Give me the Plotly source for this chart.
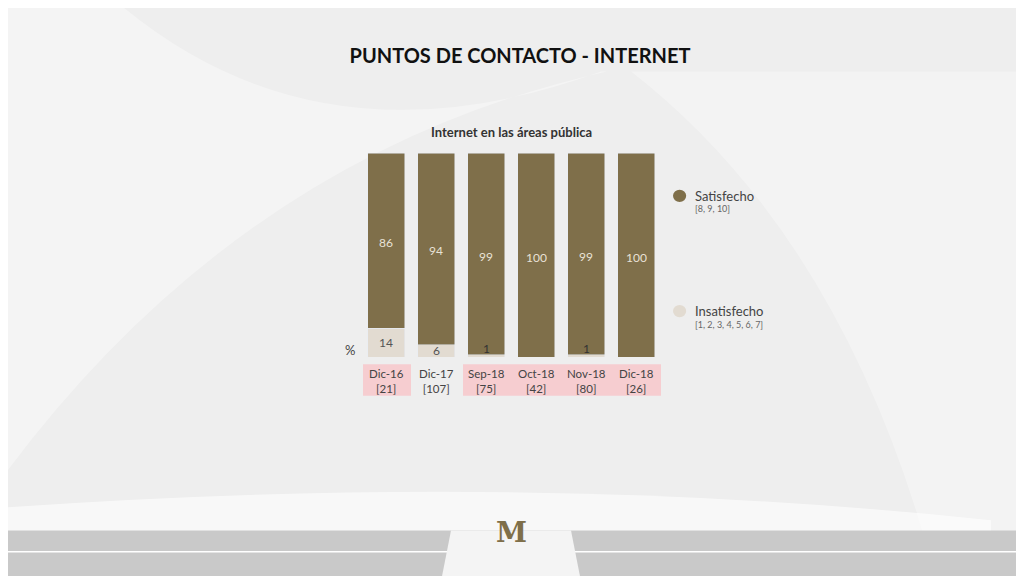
import plotly.graph_objects as go

categories = ["Dic-16", "Dic-17", "Sep-18", "Oct-18", "Nov-18", "Dic-18"]
bases = ["[21]", "[107]", "[75]", "[42]", "[80]", "[26]"]
insatisfecho = [14, 6, 1, 0, 1, 0]
satisfecho = [86, 94, 99, 100, 99, 100]
highlight = [True, False, True, True, True, True]

C_SAT = "#7f6f4a"
C_INS = "#e2dbd1"
FONT = "Lato, Century Gothic, sans-serif"

fig = go.Figure()
fig.add_trace(go.Bar(x=categories, y=insatisfecho, marker_color=C_INS, width=0.74,
                     showlegend=False, hoverinfo="skip"))
fig.add_trace(go.Bar(x=categories, y=satisfecho, marker_color=C_SAT, width=0.74,
                     showlegend=False, hoverinfo="skip"))

anns = []
for i, c in enumerate(categories):
    s, n = satisfecho[i], insatisfecho[i]
    anns.append(dict(x=c, y=n + s * 0.49, text=str(s), showarrow=False,
                     font=dict(color="#e8e2d6", size=12)))
    if n >= 5:
        anns.append(dict(x=c, y=n / 2, text=str(n), showarrow=False,
                         font=dict(color="#555", size=12)))
    elif n > 0:
        anns.append(dict(x=c, y=0, yshift=-1, text=str(n), showarrow=False, yanchor="bottom",
                         font=dict(color="#333", size=12)))
    anns.append(dict(x=c, y=-0.04, yref="paper", text=f"{c}<br>{bases[i]}", showarrow=False,
                     yanchor="top", font=dict(color="#444", size=11.5)))

shapes = []
# pink label boxes
runs = []
i = 0
while i < len(categories):
    if highlight[i]:
        j = i
        while j + 1 < len(categories) and highlight[j + 1]:
            j += 1
        runs.append((i, j))
        i = j + 1
    else:
        i += 1
for a, b in runs:
    shapes.append(dict(type="rect", xref="x", yref="paper", x0=a - 0.46, x1=b + 0.5,
                       y0=-0.19, y1=-0.035, fillcolor="#f6cdd0", line_width=0, layer="below"))

# background swooshes
shapes += [
    dict(type="path", xref="paper", yref="paper", layer="below", line_width=0,
         fillcolor="rgba(255,255,255,0.35)",
         path="M -1.3 2.6 Q -0.5 0.7 0.8 1.4 L 0.82 1.4 Q -0.4 1.0 -1.2 -0.6 Z"),
    dict(type="path", xref="paper", yref="paper", layer="below", line_width=0,
         fillcolor="rgba(255,255,255,0.3)",
         path="M 0.9 1.4 Q 1.6 0.6 1.9 -1.0 L 2.2 -1.0 L 2.2 1.4 Z"),
    dict(type="path", xref="paper", yref="paper", layer="below", line_width=0,
         fillcolor="rgba(255,255,255,0.6)",
         path="M -1.3 -0.75 Q 0.5 -0.55 2.1 -0.8 L 2.1 -0.87 L -1.3 -0.87 Z"),
]
# legend markers
shapes += [
    dict(type="circle", xref="paper", yref="paper", x0=1.04, x1=1.084, y0=0.76, y1=0.82,
         fillcolor=C_SAT, line_width=0),
    dict(type="circle", xref="paper", yref="paper", x0=1.04, x1=1.084, y0=0.195, y1=0.255,
         fillcolor=C_INS, line_width=0),
]
# bottom band
shapes += [
    dict(type="rect", xref="paper", yref="paper", x0=-1.3, x1=2.3, y0=-0.85, y1=-1.15,
         fillcolor="#c9c9c9", line_width=0),
    dict(type="line", xref="paper", yref="paper", x0=-1.3, x1=2.3, y0=-0.955, y1=-0.955,
         line=dict(color="white", width=1.5)),
    dict(type="path", xref="paper", yref="paper", line_width=0, fillcolor="#f4f4f4",
         path="M 0.3 -0.85 L 0.7 -0.85 L 0.74 -1.15 L 0.26 -1.15 Z"),
]

legend_text = [("Satisfecho", 0.79, 13, "#444"), ("[8, 9, 10]", 0.73, 9, "#666"),
               ("Insatisfecho", 0.225, 13, "#444"), ("[1, 2, 3, 4, 5, 6, 7]", 0.16, 9, "#666")]
for t, y, sz, col in legend_text:
    anns.append(dict(x=1.107, y=y, xref="paper", yref="paper", xanchor="left", yanchor="middle",
                     text=t, showarrow=False, font=dict(size=sz, color=col)))

anns += [
    dict(x=-0.06, y=-0.015, xref="paper", yref="paper", text="%", showarrow=False,
         font=dict(size=13, color="#444")),
    dict(x=0.5, y=1.15, xref="paper", yref="paper", text="<b>Internet en las áreas pública</b>",
         showarrow=False, font=dict(size=13, color="#333")),
    dict(x=0.5, y=-0.95, xref="paper", yref="paper", text="<b>M</b>", showarrow=False,
         font=dict(size=28, color="#7f6f4a", family="DejaVu Serif")),
]

fig.update_layout(
    width=1024, height=576,
    margin=dict(l=353, r=371, t=145, b=227),
    paper_bgcolor="#eeeeee", plot_bgcolor="rgba(0,0,0,0)",
    barmode="stack", bargap=0.26,
    font=dict(family=FONT),
    title=dict(text="<b>PUNTOS DE CONTACTO - INTERNET</b>", x=0.5, xanchor="center",
               y=0.916, yanchor="middle", font=dict(size=20, color="#111")),
    xaxis=dict(showticklabels=False, showgrid=False, zeroline=False, fixedrange=True),
    yaxis=dict(range=[0, 100], visible=False, fixedrange=True),
    shapes=shapes, annotations=anns,
)

fig.write_html("out.html")
